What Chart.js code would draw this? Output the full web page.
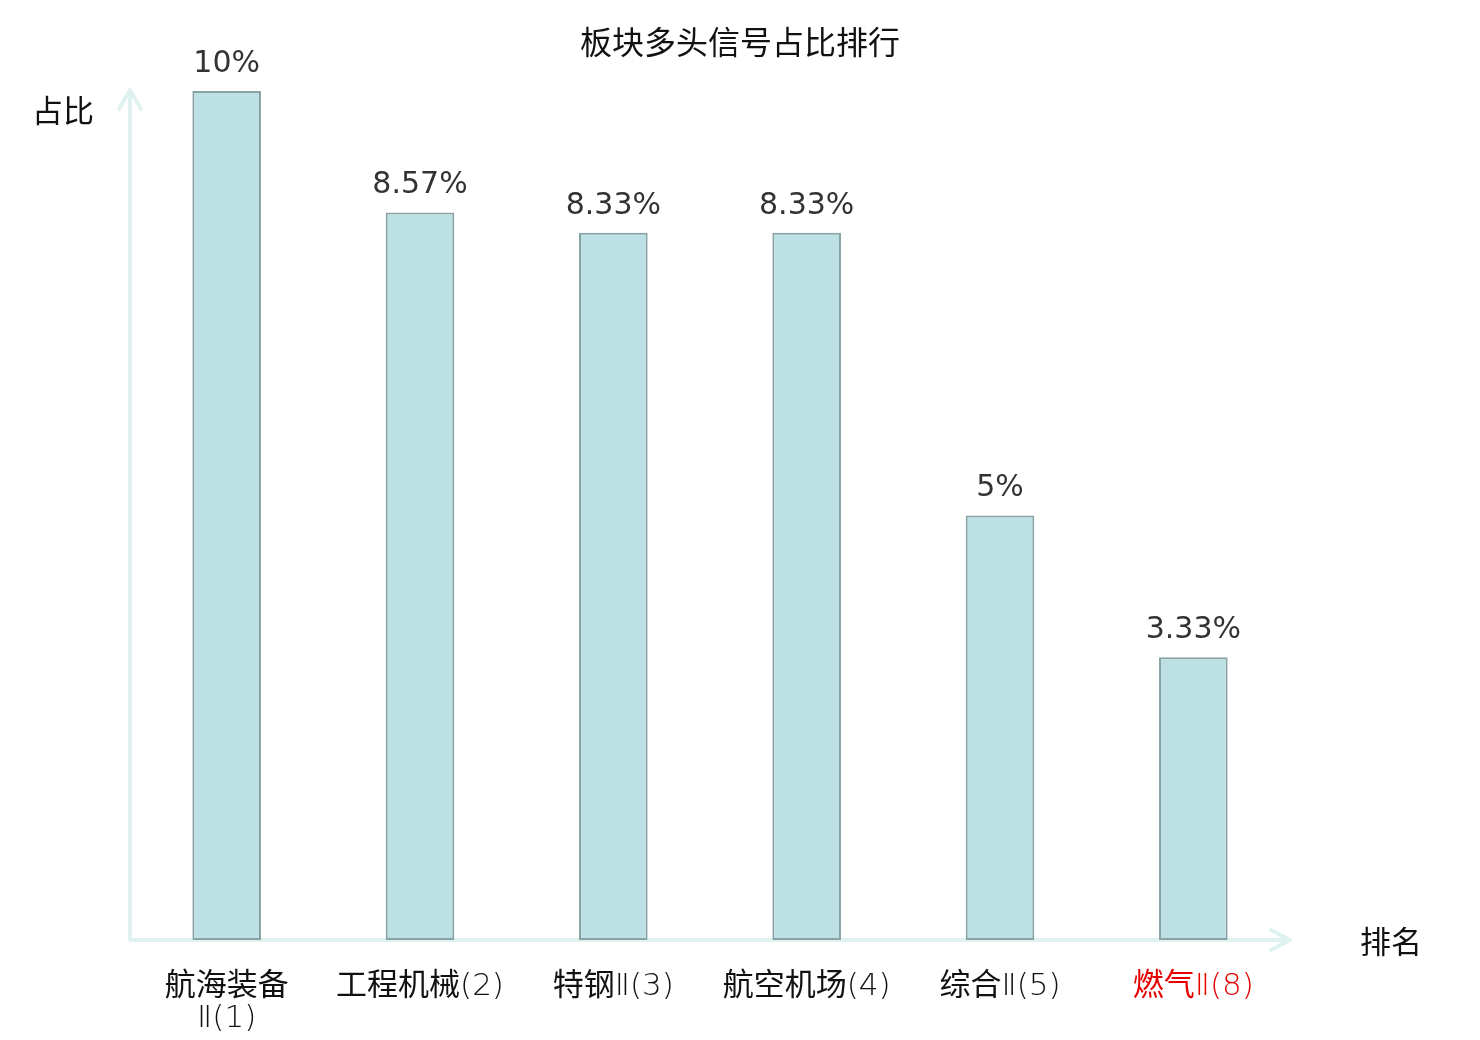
<!DOCTYPE html>
<html>
<head>
<meta charset="utf-8">
<script src="https://cdn.jsdelivr.net/npm/chart.js@4/dist/chart.umd.min.js"></script>
<style>
  body { margin: 0; background: #fff; }
  #wrap { width: 1480px; height: 1040px; }
</style>
</head>
<body>
<div id="wrap"><canvas id="rankChart"></canvas></div>
<script>
// Kategorien und Werte (Prozent)
const categories = [["航海装备", "Ⅱ(1)"], "工程机械(2)", "特钢Ⅱ(3)", "航空机场(4)", "综合Ⅱ(5)", "燃气Ⅱ(8)"];
const shares = [10, 8.57, 8.33, 8.33, 5, 3.33];
const labelColors = ["#111", "#111", "#111", "#111", "#111", "#e60000"];

const titleText = "板块多头信号占比排行";
const yAxisName = "占比";
const xAxisName = "排名";

const cjkFont = '"Noto Sans CJK SC", sans-serif';
const tickCjkFont = '31px "Noto Sans CJK SC", sans-serif';
const tickLatinFont = '200 31px "DejaVu Sans", sans-serif';
const axisColor = "#dff2ef";

// Text in CJK- und sonstige Abschnitte zerlegen
function splitRuns(text) {
    const runs = [];
    for (const ch of text) {
        const cjk = /[\u4e00-\u9fff]/.test(ch);
        if (runs.length && runs[runs.length - 1].cjk === cjk) {
            runs[runs.length - 1].t += ch;
        } else {
            runs.push({ t: ch, cjk: cjk });
        }
    }
    return runs;
}

// Gemischte Schrift auf gemeinsamer Grundlinie
function drawMixed(ctx, text, cx, baseY) {
    const runs = splitRuns(text);
    let total = 0;
    runs.forEach((r) => {
        ctx.font = r.cjk ? tickCjkFont : tickLatinFont;
        r.w = ctx.measureText(r.t).width;
        total += r.w;
    });
    let x = cx - total / 2;
    ctx.textAlign = "left";
    ctx.textBaseline = "alphabetic";
    runs.forEach((r) => {
        ctx.font = r.cjk ? tickCjkFont : tickLatinFont;
        ctx.fillText(r.t, x, baseY);
        x += r.w;
    });
    ctx.textAlign = "center";
    ctx.textBaseline = "middle";
}

/*
Zeichnet Achsen mit Pfeilen, Titel und Beschriftungen.
 */
const decorPlugin = {
    id: "decor",
    beforeDatasetsDraw(chart) {
        const ctx = chart.ctx;
        const a = chart.chartArea;
        ctx.save();
        ctx.strokeStyle = axisColor;
        ctx.lineWidth = 4;
        ctx.lineCap = "round";
        ctx.lineJoin = "round";
        // y-Achse
        ctx.beginPath();
        ctx.moveTo(a.left, a.bottom);
        ctx.lineTo(a.left, a.top - 1);
        ctx.moveTo(a.left - 11, a.top + 18);
        ctx.lineTo(a.left, a.top - 1);
        ctx.lineTo(a.left + 11, a.top + 18);
        // x-Achse
        ctx.moveTo(a.left, a.bottom);
        ctx.lineTo(a.right, a.bottom);
        ctx.moveTo(a.right - 19, a.bottom - 10);
        ctx.lineTo(a.right, a.bottom);
        ctx.lineTo(a.right - 19, a.bottom + 10);
        ctx.stroke();
        ctx.restore();
    },
    afterDatasetsDraw(chart) {
        const ctx = chart.ctx;
        const a = chart.chartArea;
        const xScale = chart.scales.x;
        const meta = chart.getDatasetMeta(0);
        ctx.save();
        ctx.textAlign = "center";
        ctx.textBaseline = "middle";

        // Titel
        ctx.fillStyle = "#111";
        ctx.font = "32px " + cjkFont;
        ctx.fillText(titleText, chart.width / 2, 42);

        // Achsennamen
        ctx.font = "31px " + cjkFont;
        ctx.fillText(yAxisName, 63, 110);
        ctx.fillText(xAxisName, 1391, 941);

        // Werte ueber den Balken
        ctx.font = '30px "DejaVu Sans", sans-serif';
        ctx.fillStyle = "#333";
        meta.data.forEach((bar, i) => {
            ctx.fillText(shares[i] + "%", bar.x, bar.y - 27);
        });

        // Kategorien
        categories.forEach((lbl, i) => {
            const x = xScale.getPixelForValue(i);
            const lines = Array.isArray(lbl) ? lbl : [lbl];
            ctx.fillStyle = labelColors[i];
            lines.forEach((line, j) => {
                drawMixed(ctx, line, x, a.bottom + 55 + j * 32);
            });
        });
        ctx.restore();
    }
};

const ctx = document.getElementById("rankChart");
const rankChart = new Chart(ctx, {
    type: "bar",
    data: {
        labels: categories.map((c) => Array.isArray(c) ? c.join("") : c),
        datasets: [{
            data: shares,
            backgroundColor: "#bce0e3",
            borderColor: "#88a3a6",
            borderWidth: 2,
            borderSkipped: false,
            categoryPercentage: 1,
            barPercentage: 0.355,
        }],
    },
    options: {
        responsive: true,
        maintainAspectRatio: false,
        animation: false,
        layout: {
            padding: { left: 130, right: 190, top: 91, bottom: 100 }
        },
        scales: {
            x: { display: false },
            y: { display: false, min: 0, max: 10 }
        },
        plugins: {
            legend: { display: false },
            tooltip: { enabled: false }
        }
    },
    plugins: [decorPlugin]
});
</script>
</body>
</html>
